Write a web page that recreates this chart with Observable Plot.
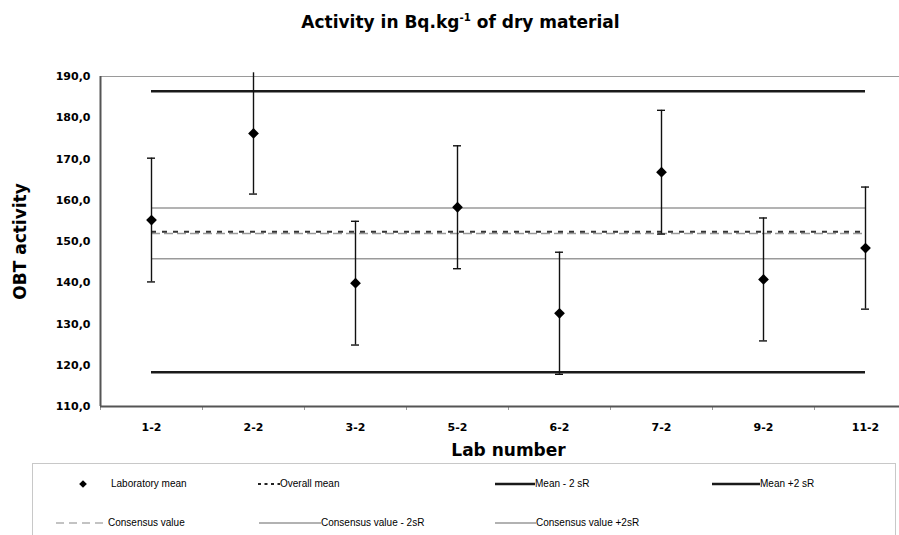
<!DOCTYPE html>
<html>
<head>
<meta charset="utf-8">
<script src="https://cdn.jsdelivr.net/npm/d3@7"></script>
<script src="https://cdn.jsdelivr.net/npm/@observablehq/plot@0.6"></script>
<style>
  html, body { margin: 0; padding: 0; background: #fff; }
  #wrap { position: relative; width: 899px; height: 535px; overflow: hidden; background: #fff; }
  #title { position: absolute; left: 0; top: 12px; width: 921px; text-align: center;
    font-family: "DejaVu Sans", Verdana, sans-serif; font-weight: bold; font-size: 17px; line-height: 20px; color: #000; }
  #title sup { font-size: 0.6em; line-height: 0; vertical-align: 0.7em; }
  #chart { position: absolute; left: 0; top: 40px; width: 916px; height: 420px; }
  #chart svg { max-width: none !important; width: 916px !important; height: 420px !important; }
  #legend { position: absolute; left: 32px; top: 463px; width: 864px; height: 100px;
    border: 1px solid #c8c8c8; box-sizing: border-box; }
  .li { position: absolute; font-family: "Liberation Sans", Arial, sans-serif; font-size: 10px; color: #000; white-space: nowrap; line-height: 12px; }
  .sw { position: absolute; overflow: visible; }
</style>
</head>
<body>
<div id="wrap">
  <div id="title">Activity in Bq.kg<sup>-1</sup> of dry material</div>
  <div id="chart"></div>
  <div id="legend"></div>
</div>
<script>
// ---- data ----
const labs = ["1-2", "2-2", "3-2", "5-2", "6-2", "7-2", "9-2", "11-2"];
const labMeans = [155.2, 176.2, 139.9, 158.3, 132.6, 166.8, 140.8, 148.4];
const labErrors = [15.0, 14.7, 15.0, 14.9, 14.8, 15.0, 14.9, 14.8];
const overallMean = 152.35;
const meanMinus2sR = 118.3;
const meanPlus2sR = 186.4;
const consensusValue = 151.95;
const consensusMinus2sR = 145.8;
const consensusPlus2sR = 158.1;
const yTicks = [110, 120, 130, 140, 150, 160, 170, 180, 190];
const legendLabels = ["Laboratory mean", "Overall mean", "Mean - 2 sR", "Mean +2 sR",
  "Consensus value", "Consensus value - 2sR", "Consensus value +2sR"];

// ---- chart ----
const data = labs.map((lab, i) => ({i, lab, mean: labMeans[i], lo: labMeans[i] - labErrors[i], hi: labMeans[i] + labErrors[i]}));
const last = labs.length - 1;
const yMin = yTicks[0], yMax = yTicks[yTicks.length - 1];
const comma = d => d.toFixed(1).replace(".", ",");
const span = {x1: 0, x2: last};

const chart = Plot.plot({
  width: 916, height: 420,
  marginLeft: 100, marginRight: 0, marginTop: 36, marginBottom: 54,
  x: {domain: [-0.5, last + 0.5]},
  y: {domain: [yMin, yMax]},
  style: {fontFamily: "DejaVu Sans, Verdana, sans-serif", color: "#000", background: "transparent"},
  marks: [
    Plot.frame({stroke: "#9a9a9a", strokeWidth: 1}),
    Plot.ruleY([consensusPlus2sR, consensusMinus2sR], {...span, stroke: "#9a9a9a", strokeWidth: 1.5}),
    Plot.ruleY([consensusValue], {...span, stroke: "#9a9a9a", strokeWidth: 1.5, strokeDasharray: "9,4"}),
    Plot.ruleY([overallMean], {...span, stroke: "#333", strokeWidth: 2, strokeDasharray: "5,6"}),
    Plot.ruleY([meanPlus2sR, meanMinus2sR], {...span, stroke: "#1a1a1a", strokeWidth: 2.5}),
    Plot.ruleX(data, {x: "i", y1: "lo", y2: "hi", stroke: "#111", strokeWidth: 1.4}),
    Plot.ruleY(data.filter(d => d.lo >= yMin), {y: "lo", x1: "i", x2: "i", insetLeft: -4, insetRight: -4, stroke: "#111", strokeWidth: 1.4}),
    Plot.ruleY(data.filter(d => d.hi <= yMax), {y: "hi", x1: "i", x2: "i", insetLeft: -4, insetRight: -4, stroke: "#111", strokeWidth: 1.4}),
    Plot.dot(data, {x: "i", y: "mean", symbol: "square", rotate: 45, r: 4.3, fill: "#000", stroke: "none"}),
    Plot.axisY({ticks: yTicks, tickFormat: comma, tickSize: 0, tickPadding: 10, fontSize: 11, fontWeight: "bold", label: null}),
    Plot.axisX({ticks: data.map(d => d.i), tickFormat: i => labs[i], tickSize: 0, tickPadding: 17, fontSize: 11, fontWeight: "bold", label: null}),
    Plot.axisX({ticks: d3.range(labs.length).map(i => i - 0.5), tickFormat: () => "", tickSize: 4, stroke: "#999", label: null}),
    Plot.ruleX([-0.5], {stroke: "#555", strokeWidth: 2}),
    Plot.ruleY([yMin], {stroke: "#555", strokeWidth: 2}),
    Plot.text(["OBT activity"], {text: d => d, frameAnchor: "left", textAnchor: "middle", dx: -80, rotate: -90, fontSize: 17, fontWeight: "bold"}),
    Plot.text(["Lab number"], {text: d => d, frameAnchor: "bottom", dy: 49, fontSize: 17, fontWeight: "bold"})
  ]
});
document.getElementById("chart").appendChild(chart);

// ---- legend (Excel-style free layout) ----
const legendLayout = [
  {sx: 40, sw: 20, tx: 78, row: 0, kind: "diamond"},
  {sx: 225, sw: 22, tx: 247, row: 0, kind: "dash", stroke: "#222", dash: "3,3.5", w: 2},
  {sx: 462, sw: 40, tx: 502, row: 0, kind: "line", stroke: "#1a1a1a", w: 2.5},
  {sx: 679, sw: 48, tx: 727, row: 0, kind: "line", stroke: "#1a1a1a", w: 2.5},
  {sx: 23, sw: 52, tx: 75, row: 1, kind: "dash", stroke: "#888", dash: "8,5", w: 1.2},
  {sx: 226, sw: 62, tx: 288, row: 1, kind: "line", stroke: "#999", w: 1.5},
  {sx: 462, sw: 41, tx: 503, row: 1, kind: "line", stroke: "#999", w: 1.5}
];
const rowY = [20, 59];
const legend = d3.select("#legend");
legendLabels.forEach((label, k) => {
  const L = legendLayout[k];
  const cy = rowY[L.row];
  const svg = legend.append("svg").attr("class", "sw")
    .style("left", L.sx + "px").style("top", (cy - 6) + "px")
    .attr("width", L.sw).attr("height", 12);
  if (L.kind === "diamond") {
    svg.append("path").attr("d", d3.symbol(d3.symbolSquare, 30)()).attr("transform", `translate(${L.sw / 2},6) rotate(45)`).attr("fill", "#000");
  } else {
    svg.append("line").attr("x1", 0).attr("x2", L.sw).attr("y1", 6).attr("y2", 6)
      .attr("stroke", L.stroke).attr("stroke-width", L.w).attr("stroke-dasharray", L.dash || null);
  }
  legend.append("div").attr("class", "li").style("left", L.tx + "px").style("top", (cy - 6) + "px").text(label);
});
</script>
</body>
</html>
